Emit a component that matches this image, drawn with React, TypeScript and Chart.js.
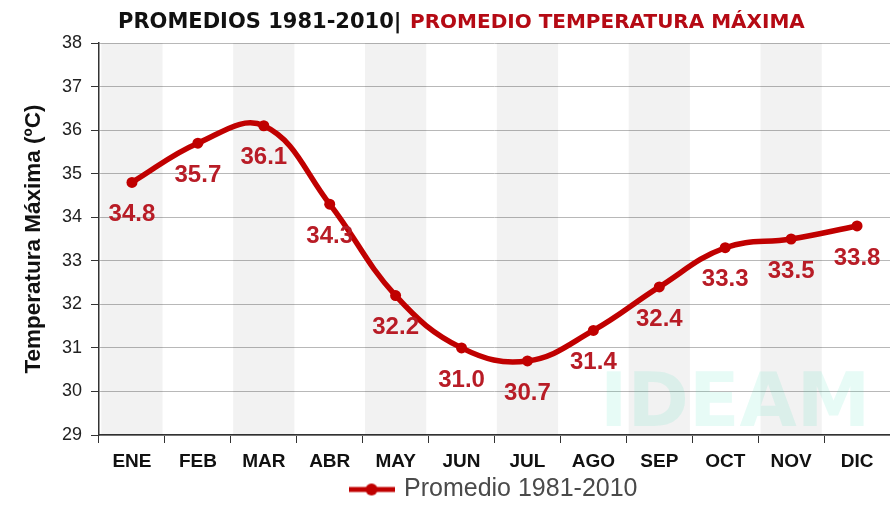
import React, { useEffect, useRef } from "react";
import { Chart, registerables } from "chart.js";

Chart.register(...registerables);

// ---- data ----
const months = ["ENE", "FEB", "MAR", "ABR", "MAY", "JUN", "JUL", "AGO", "SEP", "OCT", "NOV", "DIC"];
const tempMax = [34.8, 35.7, 36.1, 34.3, 32.2, 31.0, 30.7, 31.4, 32.4, 33.3, 33.5, 33.8];
const yMin = 29;
const yMax = 38;
const seriesLabel = "Promedio 1981-2010";
const titleLeft = "PROMEDIOS 1981-2010|";
const titleRight = "PROMEDIO TEMPERATURA MÁXIMA";
const yTitle = "Temperatura Máxima (ºC)";
const watermark = "IDEAM";

// ---- styles ----
const lineColor = "#c00000";
const labelColor = "#b81c26";
const bandColor = "rgba(0,0,0,0.05)";

// alternating shaded month columns (decoration)
const bands = months.map((_, i) => (i % 2 === 0 ? [yMin, yMax] : null));

function makeLegendIcon(): HTMLCanvasElement {
  const c = document.createElement("canvas");
  c.width = 46;
  c.height = 14;
  const g = c.getContext("2d")!;
  g.strokeStyle = lineColor;
  g.lineWidth = 5;
  g.beginPath();
  g.moveTo(0, 7);
  g.lineTo(46, 7);
  g.stroke();
  g.fillStyle = lineColor;
  g.beginPath();
  g.arc(23, 7, 6, 0, Math.PI * 2);
  g.fill();
  return c;
}

const valueLabels = {
  id: "valueLabels",
  afterDatasetsDraw(chart: any) {
    const meta = chart.getDatasetMeta(1);
    const ctx = chart.ctx;
    ctx.save();
    ctx.font = "bold 24px 'Liberation Sans', Arial, sans-serif";
    ctx.fillStyle = labelColor;
    ctx.textAlign = "center";
    ctx.textBaseline = "middle";
    meta.data.forEach((pt: any, i: number) => {
      ctx.fillText(tempMax[i].toFixed(1), pt.x, pt.y + 32);
    });
    ctx.restore();
  },
};

export default function App() {
  const ref = useRef<HTMLCanvasElement | null>(null);

  useEffect(() => {
    const canvas = ref.current;
    if (!canvas) return;
    const chart = new Chart(canvas, {
      type: "line",
      data: {
        labels: months,
        datasets: [
          {
            type: "bar",
            label: "bands",
            data: bands as any,
            backgroundColor: bandColor,
            borderWidth: 0,
            barPercentage: 0.93,
            categoryPercentage: 1,
            order: 2,
          } as any,
          {
            type: "line",
            label: seriesLabel,
            data: tempMax,
            borderColor: lineColor,
            backgroundColor: lineColor,
            borderWidth: 5.5,
            pointRadius: 5.5,
            pointBackgroundColor: lineColor,
            pointBorderColor: lineColor,
            pointBorderWidth: 0,
            tension: 0.4,
            fill: false,
            order: 1,
          },
        ],
      },
      options: {
        responsive: false,
        animation: false,
        devicePixelRatio: 1,
        layout: { autoPadding: false, padding: { top: 43, right: 0, bottom: 5, left: 0 } },
        plugins: {
          title: { display: false },
          tooltip: { enabled: false },
          legend: {
            display: true,
            position: "bottom",
            fullSize: false,
            maxHeight: 31,
            labels: {
              usePointStyle: true,
              pointStyle: makeLegendIcon() as any,
              pointStyleWidth: 40,
              padding: 5,
              color: "#4a4a4a",
              font: { family: "'Liberation Sans', Arial, sans-serif", size: 25 },
              filter: (item: any) => item.datasetIndex === 1,
            },
          },
        },
        scales: {
          x: {
            offset: true,
            afterFit: (s: any) => {
              s.height = 37;
            },
            grid: {
              offset: true,
              drawOnChartArea: false,
              drawTicks: true,
              tickLength: 8,
              color: "#333",
            },
            border: { color: "#333", width: 1.5 },
            ticks: {
              color: "#111",
              padding: 7,
              font: { family: "'Liberation Sans', Arial, sans-serif", size: 19, weight: "bold" },
            },
          },
          y: {
            min: yMin,
            max: yMax,
            afterFit: (s: any) => {
              s.width = 99;
            },
            grid: {
              color: "#b8b8b8",
              lineWidth: 1,
              tickColor: "#333",
              tickLength: 8,
              drawTicks: true,
            },
            border: { color: "#333", width: 1.5 },
            ticks: {
              stepSize: 1,
              color: "#222",
              padding: 9,
              font: { family: "'Liberation Sans', Arial, sans-serif", size: 18 },
            },
            title: {
              display: true,
              text: yTitle,
              color: "#111",
              padding: { top: 20, bottom: 0 },
              font: { family: "'Liberation Sans', Arial, sans-serif", size: 22.5, weight: "bold" },
            },
          },
        },
      },
      plugins: [valueLabels],
    });
    return () => chart.destroy();
  }, []);

  return (
    <div style={{ position: "absolute", left: 0, top: 0, width: 890, height: 508, background: "#fff", overflow: "hidden" }}>
      <canvas ref={ref} width={890} height={508} style={{ position: "absolute", left: 0, top: 0 }} />
      <div
        style={{
          position: "absolute",
          left: 118,
          top: 9,
          lineHeight: "24px",
          font: "bold 21px 'DejaVu Sans', sans-serif",
          color: "#111",
          whiteSpace: "nowrap",
        }}
      >
        {titleLeft}
      </div>
      <div
        style={{
          position: "absolute",
          left: 410,
          top: 9,
          lineHeight: "24px",
          font: "bold 20px 'DejaVu Sans', sans-serif",
          color: "#b50a14",
          whiteSpace: "nowrap",
        }}
      >
        {titleRight}
      </div>
      <div
        style={{
          position: "absolute",
          left: 600,
          top: 357,
          lineHeight: "80px",
          font: "bold 74px 'DejaVu Sans', sans-serif",
          color: "rgba(60, 220, 185, 0.12)",
          whiteSpace: "nowrap",
          pointerEvents: "none",
        }}
      >
        {watermark}
      </div>
    </div>
  );
}
